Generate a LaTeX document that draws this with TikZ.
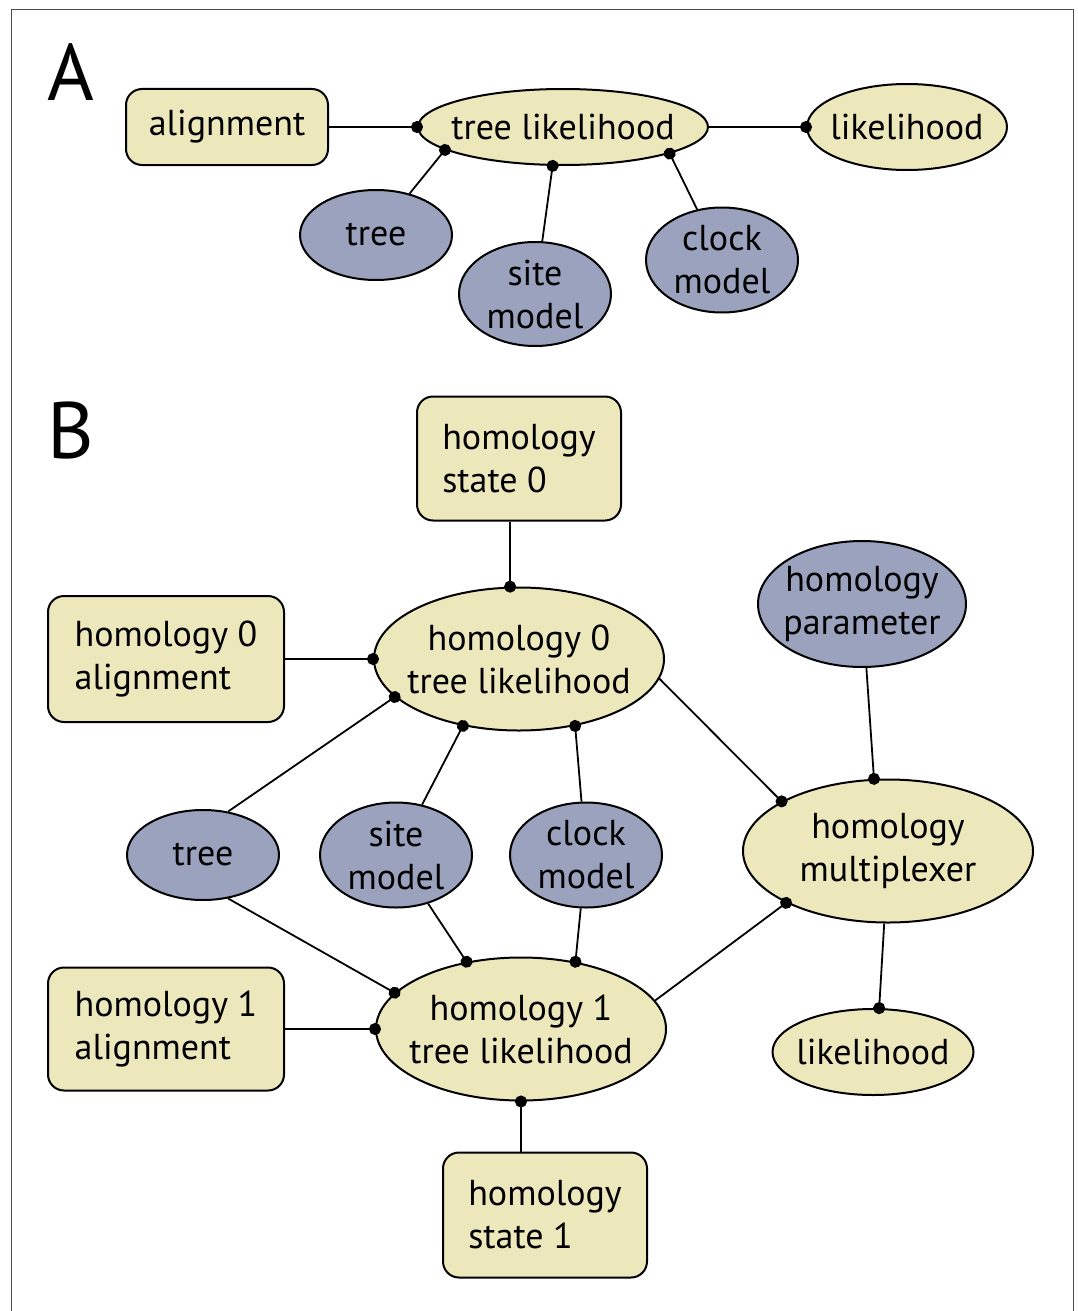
\documentclass[tikz,border=0pt]{standalone}
\usepackage{fontspec}
\setmainfont{PT Sans}
\usetikzlibrary{positioning, arrows.meta, shapes.geometric}
\definecolor{beastcream}{HTML}{EDE7BC}
\definecolor{beastslate}{HTML}{9AA2BE}

\begin{document}
\begin{tikzpicture}[x=1pt, y=-1pt,
  every node/.style={font=\fontsize{36}{43}\selectfont},
  inputbox/.style={rectangle, rounded corners=16pt, draw=black, line width=2pt,
    fill=beastcream, align=left, inner sep=0pt},
  calcnode/.style={ellipse, draw=black, line width=2pt, fill=beastcream,
    align=center, inner xsep=-40pt, inner ysep=-20pt},
  paramnode/.style={calcnode, fill=beastslate},
  link/.style={line width=1.8pt, -{Circle[length=12pt]}, shorten >=-6pt},
  panel/.style={font=\fontsize{80}{80}\selectfont, inner sep=0pt, anchor=south west}
]
\useasboundingbox (0,0) rectangle (1078,1311);
\draw[line width=1pt, black!70] (11,1330) |- (1073,10) -- (1073,1330);

% panel A
\node[panel] (labA) at (47,101) {A};
\node[calcnode, minimum width=290pt, minimum height=76pt] (treelik) at (563,127) {tree likelihood};
\node[inputbox, minimum width=202pt, minimum height=76pt, left=88pt of treelik] (aln) {alignment};
\node[calcnode, minimum width=200pt, minimum height=86pt, right=97pt of treelik] (lik) {likelihood};
\node[paramnode, minimum width=152pt, minimum height=90pt] (tree) at (376,235) {tree};
\node[paramnode, minimum width=152pt, minimum height=104pt] (site) at (535,294) {site\\model};
\node[paramnode, minimum width=152pt, minimum height=105pt] (clock) at (722,260) {clock\\model};

\draw[link] (aln) -- (treelik.west);
\draw[link] (treelik) -- (lik.west);
\draw[link] (tree) -- (treelik.191);
\draw[link] (site) -- (treelik.255);
\draw[link] (clock) -- (treelik.346);

% panel B
\node[panel] (labB) at (47,459) {B};
\node[calcnode, minimum width=290pt, minimum height=143pt] (hzero) at (519,659) {homology 0\\tree likelihood};
\node[inputbox, minimum width=204pt, minimum height=124pt, above=65pt of hzero] (statezero) {homology\\state 0};
\node[inputbox, minimum width=236pt, minimum height=126pt, left=88pt of hzero] (alnzero) {homology 0\\alignment};
\node[paramnode, minimum width=208pt, minimum height=126pt] (hparam) at (862,604) {homology\\parameter};
\node[calcnode, minimum width=290pt, minimum height=143pt] (mux) at (888,851) {homology\\multiplexer};
\node[paramnode, minimum width=152pt, minimum height=90pt] (treeb) at (203,855) {tree};
\node[paramnode, minimum width=152pt, minimum height=105pt] (siteb) at (396,855) {site\\model};
\node[paramnode, minimum width=152pt, minimum height=105pt] (clockb) at (586,855) {clock\\model};
\node[calcnode, minimum width=290pt, minimum height=143pt] (hone) at (521,1029) {homology 1\\tree likelihood};
\node[inputbox, minimum width=236pt, minimum height=123pt, left=90pt of hone] (alnone) {homology 1\\alignment};
\node[inputbox, minimum width=204pt, minimum height=125pt] (stateone) at (545,1215) {homology\\state 1};
\node[calcnode, minimum width=201pt, minimum height=86pt] (likb) at (873,1052) {likelihood};

\draw[link] (statezero.south -| hzero.97) -- (hzero.97);
\draw[link] (alnzero) -- (hzero.west);
\draw[link] (treeb.60) -- (hzero.197);
\draw[link] (siteb) -- (hzero.230);
\draw[link] (clockb) -- (hzero.310);
\draw[link] (hzero.352) -- (mux.155);
\draw[link] (hparam) -- (mux.101);
\draw[link] (treeb.300) -- (hone.164);
\draw[link] (siteb) -- (hone.129);
\draw[link] (clockb) -- (hone.51);
\draw[link] (alnone) -- (hone.west);
\draw[link] (stateone.north -| hone.south) -- (hone.south);
\draw[link] (hone.12) -- (mux.207);
\draw[link] (mux.267) -- (likb.82);
\end{tikzpicture}
\end{document}
